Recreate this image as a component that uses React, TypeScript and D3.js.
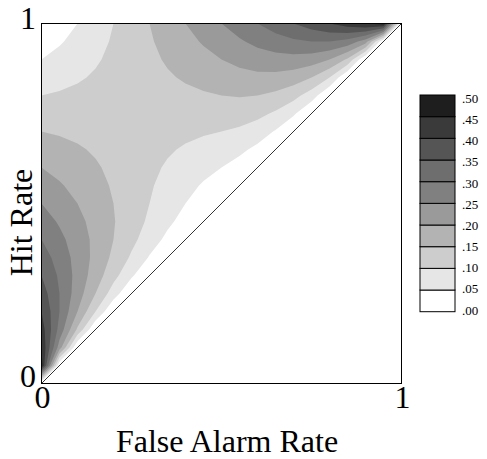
import React from "react";
import * as d3 from "d3";

const falseAlarmTicks = [0, 1];
const hitTicks = [0, 1];

// grid spacing of the sampled surface
const gridStep = 0.05;

// range of possible ROC areas at 0.05 steps.
// rows run from hit rate 1 down to 0, columns from false alarm rate 0 up to the diagonal
const areaRange = [
  [0, 0.025, 0.05, 0.075, 0.1, 0.125, 0.15, 0.175, 0.2, 0.225, 0.25, 0.275, 0.3, 0.325, 0.35, 0.375, 0.4, 0.425, 0.45, 0.475, 0],
  [0.025, 0.045, 0.065, 0.085, 0.105, 0.125, 0.145, 0.165, 0.185, 0.205, 0.225, 0.244, 0.263, 0.279, 0.292, 0.3, 0.3, 0.283, 0.225, 0],
  [0.05, 0.065, 0.08, 0.095, 0.11, 0.125, 0.14, 0.155, 0.17, 0.185, 0.2, 0.214, 0.225, 0.232, 0.233, 0.225, 0.2, 0.142, 0],
  [0.075, 0.085, 0.095, 0.105, 0.115, 0.125, 0.135, 0.145, 0.155, 0.165, 0.175, 0.183, 0.188, 0.186, 0.175, 0.15, 0.1, 0],
  [0.1, 0.105, 0.11, 0.115, 0.12, 0.125, 0.13, 0.135, 0.14, 0.145, 0.15, 0.153, 0.15, 0.139, 0.117, 0.075, 0],
  [0.125, 0.125, 0.125, 0.125, 0.125, 0.125, 0.125, 0.125, 0.125, 0.125, 0.125, 0.122, 0.113, 0.093, 0.058, 0],
  [0.15, 0.145, 0.14, 0.135, 0.13, 0.125, 0.12, 0.115, 0.11, 0.105, 0.1, 0.092, 0.075, 0.046, 0],
  [0.175, 0.165, 0.155, 0.145, 0.135, 0.125, 0.115, 0.105, 0.095, 0.085, 0.075, 0.061, 0.038, 0],
  [0.2, 0.185, 0.17, 0.155, 0.14, 0.125, 0.11, 0.095, 0.08, 0.065, 0.05, 0.031, 0],
  [0.225, 0.205, 0.185, 0.165, 0.145, 0.125, 0.105, 0.085, 0.065, 0.045, 0.025, 0],
  [0.25, 0.225, 0.2, 0.175, 0.15, 0.125, 0.1, 0.075, 0.05, 0.025, 0],
  [0.275, 0.244, 0.214, 0.183, 0.153, 0.122, 0.092, 0.061, 0.031, 0],
  [0.3, 0.263, 0.225, 0.188, 0.15, 0.113, 0.075, 0.038, 0],
  [0.325, 0.279, 0.232, 0.186, 0.139, 0.093, 0.046, 0],
  [0.35, 0.292, 0.233, 0.175, 0.117, 0.058, 0],
  [0.375, 0.3, 0.225, 0.15, 0.075, 0],
  [0.4, 0.3, 0.2, 0.1, 0],
  [0.425, 0.283, 0.142, 0],
  [0.45, 0.225, 0],
  [0.475, 0],
  [0],
];

const thresholds = [0.05, 0.1, 0.15, 0.2, 0.25, 0.3, 0.35, 0.4, 0.45];
const bandColors = [
  "#ffffff", "#e6e6e6", "#cdcdcd", "#b3b3b3", "#9a9a9a",
  "#808080", "#6e6e6e", "#555555", "#3a3a3a", "#1e1e1e",
];
const legendValues = [0, 0.05, 0.1, 0.15, 0.2, 0.25, 0.3, 0.35, 0.4, 0.45, 0.5];
const legendLabels = [".00", ".05", ".10", ".15", ".20", ".25", ".30", ".35", ".40", ".45", ".50"];

const width = 487;
const height = 459;
const margin = { top: 23.5, right: 85.5, bottom: 75.5, left: 41.5 };
const font = "'Liberation Serif', 'Times New Roman', serif";

export default function App() {
  const x = d3.scaleLinear().domain([0, 1]).range([margin.left, width - margin.right]);
  const y = d3.scaleLinear().domain([0, 1]).range([height - margin.bottom, margin.top]);

  const n = areaRange[0].length;
  const values = new Array(n * n).fill(0);
  areaRange.forEach((row, j) => row.forEach((v, i) => (values[i + j * n] = v)));

  const contours = d3.contours().size([n, n]).thresholds(thresholds)(values);

  // grid coords -> rates -> pixels
  const project = d3.geoTransform({
    point(cx, cy) {
      this.stream.point(x((cx - 0.5) * gridStep), y(1 - (cy - 0.5) * gridStep));
    },
  });
  const path = d3.geoPath(project);

  const legendY = d3.scaleLinear().domain([0, 0.5]).range([311.7, 95]);
  const legendLabelY = d3.scaleLinear().domain([0, 0.5]).range([310, 98.5]);

  return (
    <svg
      width={width}
      height={height}
      style={{ position: "absolute", left: 0, top: 0, background: "#fff", fontFamily: font }}
    >
      <defs>
        <clipPath id="plot-clip">
          <rect x={x(0)} y={y(1)} width={x(1) - x(0)} height={y(0) - y(1)} />
        </clipPath>
      </defs>

      <g clipPath="url(#plot-clip)">
        {contours.map((c, k) => (
          <path key={k} d={path(c)} fill={bandColors[k + 1]} stroke="none" />
        ))}
      </g>

      {/* diagonal */}
      <line x1={x(0)} y1={y(0)} x2={x(1)} y2={y(1)} stroke="#333" strokeWidth={1} />

      {/* frame */}
      <rect
        x={x(0)}
        y={y(1)}
        width={x(1) - x(0)}
        height={y(0) - y(1)}
        fill="none"
        stroke="#000"
        strokeWidth={1}
      />

      {/* ticks */}
      {hitTicks.map((t) => (
        <text
          key={"h" + t}
          x={36}
          y={t === 1 ? y(t) + 5.5 : y(t) + 3.5}
          fontSize={32}
          textAnchor="end"
          style={{ fontFamily: font }}
        >
          {t}
        </text>
      ))}
      {falseAlarmTicks.map((t) => (
        <text key={"f" + t} x={x(t) + 1} y={408} fontSize={32} textAnchor="middle" style={{ fontFamily: font }}>
          {t}
        </text>
      ))}

      <text x={227} y={452} fontSize={32} textAnchor="middle" style={{ fontFamily: font }}>
        False Alarm Rate
      </text>
      <text
        transform="translate(32,222.5) rotate(-90)"
        fontSize={32}
        textAnchor="middle"
        style={{ fontFamily: font }}
      >
        Hit Rate
      </text>

      {/* legend */}
      {bandColors.map((col, k) => (
        <rect
          key={"l" + k}
          x={420}
          y={legendY(legendValues[k + 1])}
          width={35}
          height={legendY(legendValues[k]) - legendY(legendValues[k + 1])}
          fill={col}
          stroke="#000"
          strokeWidth={1}
        />
      ))}
      {legendLabels.map((lab, k) => (
        <text
          key={"t" + k}
          x={462}
          y={legendLabelY(legendValues[k]) + 4.5}
          fontSize={13}
          style={{ fontFamily: font }}
        >
          {lab}
        </text>
      ))}
    </svg>
  );
}
